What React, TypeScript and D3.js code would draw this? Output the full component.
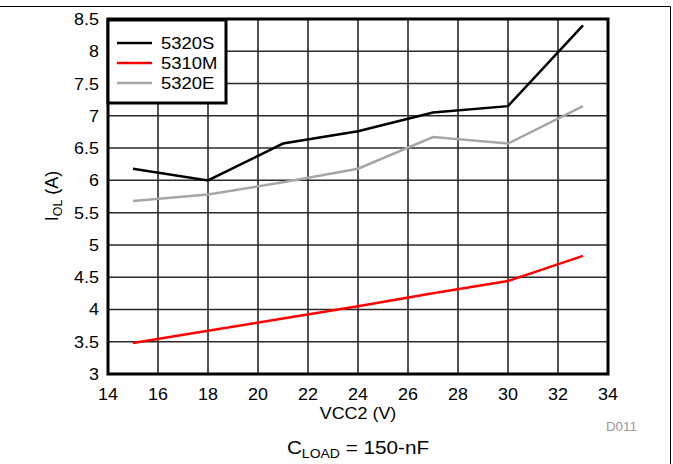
import React from "react";
import * as d3 from "d3";

const vcc = [15, 18, 21, 24, 27, 30, 33];
const s5320S = [6.18, 6.0, 6.57, 6.76, 7.05, 7.15, 8.4];
const s5310M = [3.48, 3.67, 3.86, 4.05, 4.25, 4.44, 4.83];
const s5320E = [5.68, 5.78, 5.97, 6.18, 6.67, 6.57, 7.15];
const seriesNames = ["5320S", "5310M", "5320E"];
const seriesColors = ["#000000", "#ff0000", "#a6a6a6"];
const xTicks = [14, 16, 18, 20, 22, 24, 26, 28, 30, 32, 34];
const yTicks = [3, 3.5, 4, 4.5, 5, 5.5, 6, 6.5, 7, 7.5, 8, 8.5];

const SX = 1.12;

function T(props: { x: number; y: number; size: number; anchor?: string; fill?: string; children: React.ReactNode }) {
  return (
    <g transform={`translate(${props.x},${props.y}) scale(${SX},1)`}>
      <text x={0} y={0} fontSize={props.size} textAnchor={props.anchor || "start"} fill={props.fill || "#000"}>
        {props.children}
      </text>
    </g>
  );
}

export default function App() {
  const W = 673, H = 464;
  const left = 108, right = 608, top = 19, bottom = 374;
  const x = d3.scaleLinear().domain([14, 34]).range([left, right]);
  const y = d3.scaleLinear().domain([3, 8.5]).range([bottom, top]);
  const line = d3.line<[number, number]>().x(d => x(d[0])).y(d => y(d[1]));
  const all = [s5320S, s5310M, s5320E];
  const font = "Liberation Sans, Arial, sans-serif";
  return (
    <svg width={W} height={H} style={{ position: "absolute", left: 0, top: 0 }} fontFamily={font}>
      <rect x={0} y={0} width={W} height={H} fill="#fff" />
      <line x1={0} x2={670.5} y1={6.5} y2={6.5} stroke="#000" strokeWidth={1} />
      <line x1={670.5} x2={670.5} y1={6.5} y2={H} stroke="#000" strokeWidth={1} />
      {xTicks.slice(1, -1).map(t => (
        <line key={"vx" + t} x1={x(t)} x2={x(t)} y1={top} y2={bottom} stroke="#1a1a1a" strokeWidth={1.5} />
      ))}
      {yTicks.slice(1, -1).map(t => (
        <line key={"hy" + t} x1={left} x2={right} y1={y(t)} y2={y(t)} stroke="#2a2a2a" strokeWidth={1.5} />
      ))}
      {all.map((s, i) => (
        <path key={i} d={line(vcc.map((v, j) => [v, s[j]] as [number, number])) || ""} fill="none" stroke={seriesColors[i]} strokeWidth={2.5} />
      ))}
      <rect x={left} y={top} width={right - left} height={bottom - top} fill="none" stroke="#000" strokeWidth={3} />
      {/* legend */}
      <rect x={108} y={20} width={118} height={83} fill="#fff" stroke="#000" strokeWidth={3} />
      {seriesNames.map((n, i) => (
        <g key={n}>
          <line x1={117} x2={152} y1={43 + i * 20} y2={43 + i * 20} stroke={seriesColors[i]} strokeWidth={2.5} />
          <T x={161} y={49 + i * 20} size={16.5}>{n}</T>
        </g>
      ))}
      {xTicks.map(t => (
        <T key={"xt" + t} x={x(t)} y={400} size={16} anchor="middle">{t}</T>
      ))}
      {yTicks.map(t => (
        <T key={"yt" + t} x={99} y={y(t) + 6} size={16} anchor="end">{t}</T>
      ))}
      <T x={358} y={419} size={16} anchor="middle">VCC2 (V)</T>
      <text transform={`translate(58,196) rotate(-90)`} fontSize={18} textAnchor="middle" fill="#000">
        I<tspan fontSize={12.5} dy={4}>OL</tspan><tspan dy={-4}> (A)</tspan>
      </text>
      <T x={637} y={431} size={12} anchor="end" fill="#999">D011</T>
      <T x={358} y={454} size={18.5} anchor="middle">
        C<tspan fontSize={12.5} dy={4}>LOAD</tspan><tspan dy={-4}> = 150-nF</tspan>
      </T>
    </svg>
  );
}
